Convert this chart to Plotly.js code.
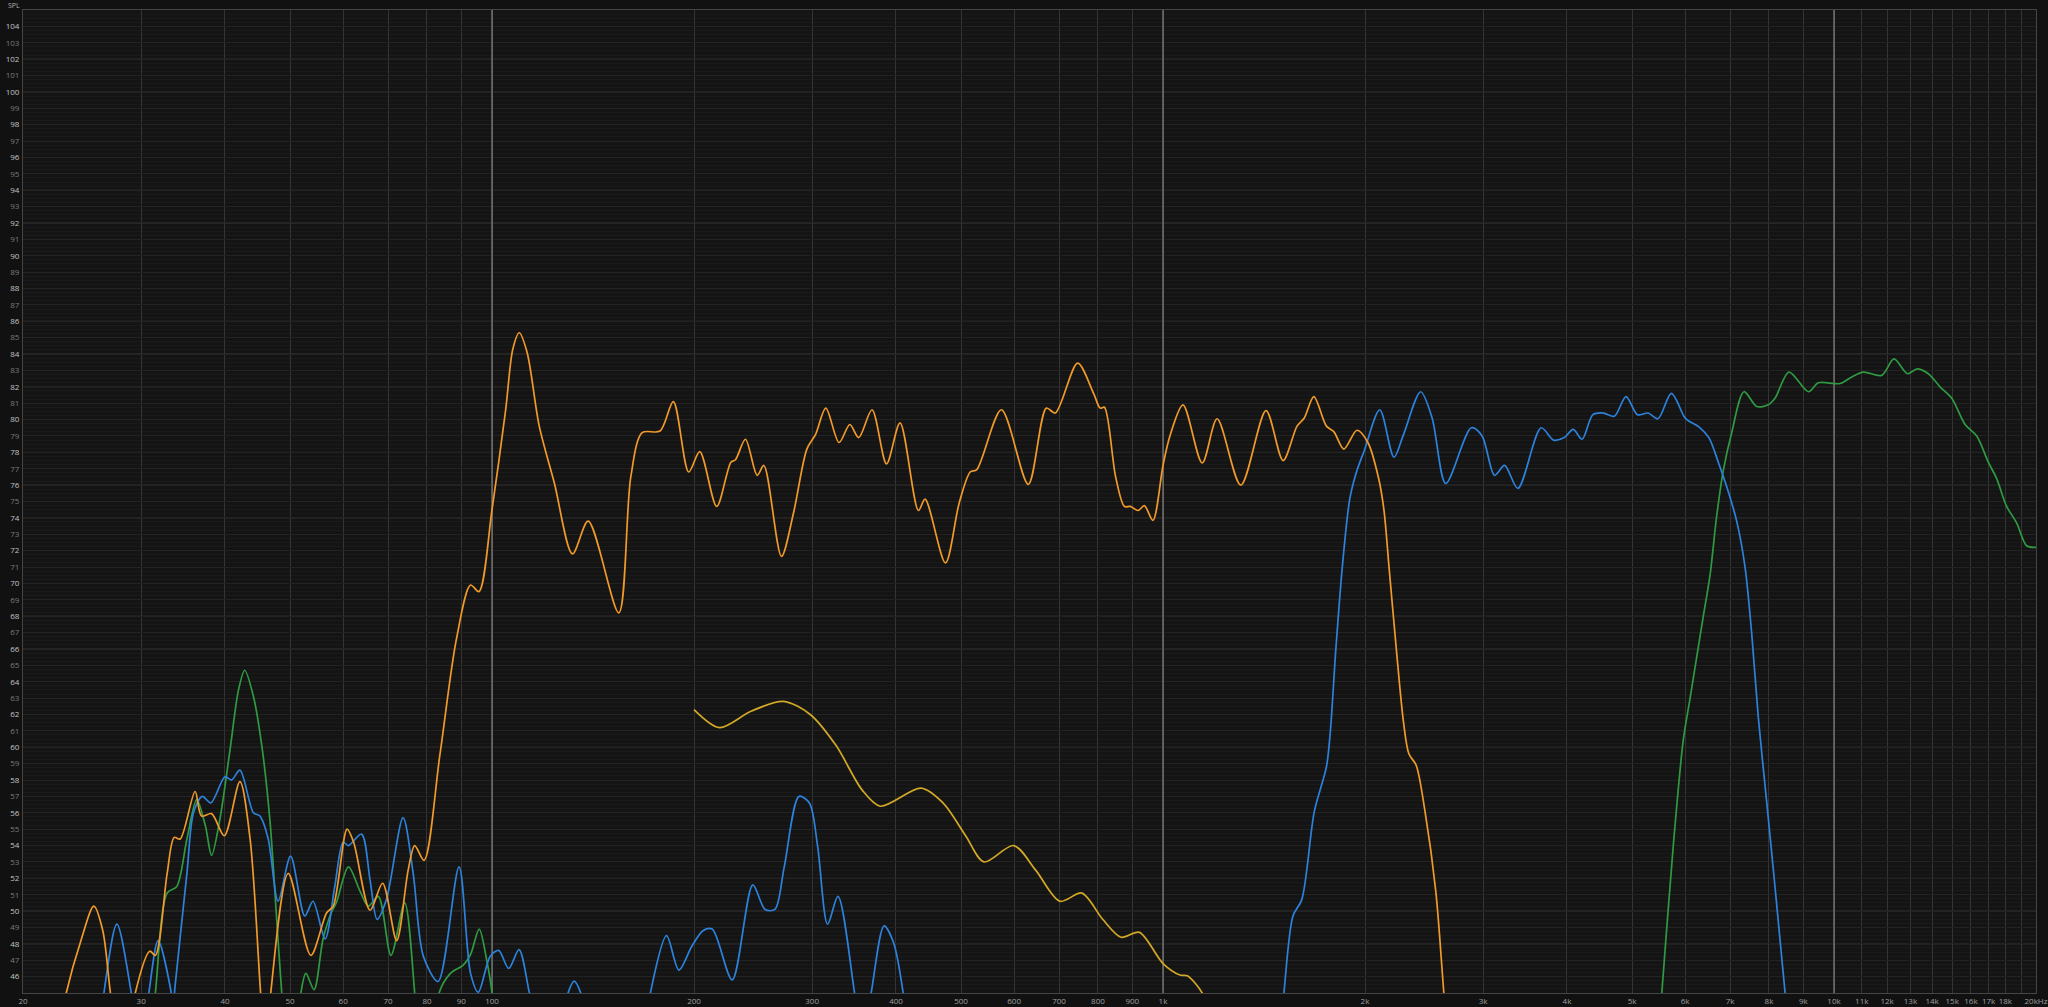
<!DOCTYPE html>
<html>
<head>
<meta charset="utf-8">
<script src="https://cdn.plot.ly/plotly-3.0.1.min.js"></script>
<style>
  html, body { margin: 0; padding: 0; background: #111111; }
  #chart { width: 2048px; height: 1007px; }
</style>
</head>
<body>
<div id="chart"></div>
<script>
// ---------- data (frequency in Hz, level in dB SPL) ----------
const orangeFreq = [22.0, 23.2, 24.4, 25.5, 26.3, 27.0, 28.2, 29.4, 30.9, 31.5, 32.8, 33.6, 34.3, 36.1, 36.9, 38.2, 39.9, 42.1, 43.6, 45.2, 46.0, 46.8, 49.7, 53.7, 56.7, 58.0, 60.8, 62.2, 65.8, 68.7, 72.1, 75.0, 76.7, 79.2, 83.6, 88.5, 92.9, 95.6, 100, 104.8, 107.4, 109.8, 112.8, 117.6, 123.9, 131.8, 139.1, 154.5, 161, 167.4, 178, 186.3, 196.4, 204, 216.2, 227, 230.6, 238.6, 248.4, 254.2, 270, 281.4, 294.6, 303.6, 314.4, 329, 341.4, 352, 368.4, 387.2, 405.6, 432, 442, 474, 496.8, 516, 527.8, 574.4, 629.8, 670, 691, 746, 788, 806, 818, 850, 876, 894, 918, 938, 966, 1000, 1024, 1071, 1144, 1204, 1306, 1424, 1510, 1584, 1624, 1678, 1752, 1798, 1860, 1946, 2020, 2096, 2134, 2174, 2228, 2283, 2325, 2384, 2457, 2550, 2619, 2680];
const orangeSPL  = [40, 45.0, 48.2, 50.3, 48.8, 45.0, 40, 45.0, 47.55, 47.3, 52.3, 54.5, 54.4, 57.3, 55.8, 55.95, 54.6, 57.9, 54.4, 45.0, 41, 45.0, 52.3, 47.3, 49.9, 50.3, 55.0, 54.2, 50.05, 51.7, 48.2, 52.5, 54.0, 53.1, 59.5, 66.6, 69.9, 69.5, 74.5, 80.6, 84.3, 85.3, 84.1, 79.6, 76.1, 71.8, 73.8, 68.2, 76.5, 79.2, 79.3, 81.1, 76.8, 78.05, 74.7, 77.4, 77.55, 78.8, 76.6, 77.2, 71.65, 74.3, 78.2, 79.1, 80.7, 78.6, 79.7, 78.9, 80.6, 77.3, 79.8, 74.45, 75.15, 71.25, 74.9, 76.8, 76.95, 80.6, 76.05, 80.7, 80.4, 83.45, 81.6, 80.7, 80.75, 76.5, 74.7, 74.7, 74.45, 74.75, 73.85, 77.2, 79.0, 80.9, 77.35, 80.05, 76.0, 80.55, 77.5, 79.6, 80.1, 81.4, 79.6, 79.25, 78.2, 79.35, 78.6, 76.4, 74.5, 70.8, 65.9, 61.5, 59.6, 58.9, 56.1, 51.2, 45.2, 40];

const yellowFreq = [200, 218.3, 243.2, 271.9, 298, 325.7, 356, 379, 436, 470, 508, 541, 599, 646, 702, 757, 813, 866, 922, 1000, 1060, 1087, 1144, 1175];
const yellowSPL  = [62.3, 61.2, 62.2, 62.8, 62.0, 60.1, 57.4, 56.4, 57.5, 56.6, 54.6, 53.0, 54.0, 52.5, 50.6, 51.1, 49.5, 48.4, 48.7, 46.8, 46.1, 46.05, 45.0, 43.5];

const blueFreq = [25.6, 26.4, 27.6, 29.0, 29.9, 30.8, 31.8, 33.2, 33.45, 33.7, 35.1, 35.9, 37.0, 38.1, 40.0, 40.9, 42.1, 44.1, 45.1, 46.4, 48.0, 50.1, 52.6, 54.1, 56.4, 58.3, 60.0, 61.1, 63.9, 65.8, 67.4, 69.6, 73.7, 76.3, 79.0, 83.1, 89.3, 92.9, 95.4, 99.4, 102.3, 105.9, 109.7, 113.7, 118, null, 127, 129.8, 132.6, 135.6, 139, null, 168, 172.2, 182, 189.9, 198.5, 206.2, 212.9, 228, 244.7, 255.2, 264, 272.6, 286.8, 297.2, 305.7, 316.3, 327.8, 347, 356, 367.3, 384, 396.5, 410, 420, null, 1480, 1514, 1562, 1610, 1681, 1752, 1776, 1809, 1853, 1899, 1946, 1995, 2104, 2209, 2283, 2421, 2518, 2639, 2881, 2989, 3120, 3229, 3380, 3660, 3820, 3963, 4086, 4213, 4372, 4535, 4705, 4898, 5093, 5284, 5464, 5723, 5975, 6033, 6314, 6509, 6723, 6958, 7161, 7369, 7541, 7713, 7940, 8166, 8473, 8650];
const blueSPL  = [40, 45.0, 49.2, 45.0, 41, 45.0, 48.2, 45.2, 44.0, 45.4, 52.3, 56.0, 57.0, 56.6, 58.2, 58.0, 58.6, 56.0, 55.8, 54.4, 50.6, 53.35, 49.7, 50.6, 48.3, 51.5, 54.2, 54.0, 54.7, 51.9, 49.5, 50.7, 55.7, 52.3, 47.25, 45.7, 52.7, 46.2, 45.05, 47.25, 47.6, 46.5, 47.65, 45.0, 42, null, 43, 45.0, 45.72, 45.0, 43, null, 42, 45.0, 48.5, 46.4, 47.85, 48.8, 48.9, 45.8, 51.6, 50.1, 50.1, 52.7, 57.0, 56.6, 53.95, 49.2, 50.9, 45.0, 42, 45.0, 49.1, 48.1, 45.0, 41, null, 41, 45.0, 49.7, 50.7, 56.1, 58.8, 61.0, 65.9, 71.3, 75.2, 76.9, 78.1, 80.6, 77.7, 79.1, 81.7, 80.1, 76.1, 79.5, 79.0, 76.6, 77.2, 75.8, 79.5, 78.75, 78.9, 79.4, 78.8, 80.3, 80.4, 80.2, 81.4, 80.3, 80.4, 80.05, 81.6, 80.2, 80.0, 79.5, 78.9, 77.4, 75.6, 73.8, 71.0, 66.9, 61.8, 56.6, 51.5, 44.6, 41];

const greenFreq = [30.6, 31.5, 32.8, 33.9, 35.1, 36.3, 37.4, 38.2, 39.3, 40.7, 41.9, 42.8, 44.1, 45.4, 46.7, 47.8, 48.6, 49.5, null, 51.0, 51.9, 52.8, 54.3, 56.0, 57.6, 58.6, 61.1, 63.6, 65.4, 67.7, 70.7, 74.1, 76.7, 78, null, 82, 83.4, 86.7, 90.6, 92.9, 95.7, 98.2, 100, 101.5, null, 5420, 5538, 5761, 5960, 6103, 6380, 6535, 6685, 6840, 7039, 7343, 7671, 7980, 8166, 8570, 9159, 9477, 10208, 10627, 11058, 11776, 12287, 12862, 13310, 13822, 14388, 14980, 15680, 16320, 16980, 17475, 18083, 18714, 19366, 20000];
const greenSPL  = [40, 45.0, 51.1, 51.5, 54.4, 56.8, 55.2, 53.4, 55.6, 59.85, 63.5, 64.7, 63.1, 60.05, 55.4, 49.3, 45.0, 41, null, 41, 45.0, 46.2, 45.2, 48.3, 49.9, 50.5, 52.7, 51.2, 50.3, 50.9, 47.3, 50.5, 45.0, 41, null, 41, 45.0, 46.2, 46.7, 47.35, 48.9, 47.0, 45.0, 41, null, 40, 45.0, 54.0, 60.4, 63.0, 67.9, 70.5, 74.1, 76.9, 79.2, 81.7, 80.8, 80.9, 81.3, 82.9, 81.7, 82.25, 82.2, 82.6, 82.9, 82.7, 83.7, 82.8, 83.1, 82.8, 82.0, 81.3, 79.7, 79.0, 77.4, 76.4, 74.7, 73.7, 72.3, 72.2];

const xTickValues = [20, 30, 40, 50, 60, 70, 80, 90, 100, 200, 300, 400, 500, 600, 700, 800, 900, 1000, 2000, 3000, 4000, 5000, 6000, 7000, 8000, 9000, 10000, 11000, 12000, 13000, 14000, 15000, 16000, 17000, 18000, 19000, 20000];
const xTickLabels = ["20", "30", "40", "50", "60", "70", "80", "90", "100", "200", "300", "400", "500", "600", "700", "800", "900", "1k", "2k", "3k", "4k", "5k", "6k", "7k", "8k", "9k", "10k", "11k", "12k", "13k", "14k", "15k", "16k", "17k", "18k", "", "20kHz"];
const decadeLines = [100, 1000, 10000];
const yTickValues = [];
for (let v = 46; v <= 104; v++) yTickValues.push(v);

// ---------- styling ----------
const brightRows = [48, 50, 52, 54, 60, 66, 68, 74, 76, 78, 80, 82, 84, 86, 88, 92, 94, 100, 102];
const yTickText = yTickValues.map(v => {
  const c = (v % 2 === 0) ? '#c4c4c4' : '#7c7c7c';
  return '<span style="color:' + c + '">' + v + '</span>';
});

const lineW = 1.7;
const sm = 0.85;
const traces = [
  { x: decadeLines.flatMap(f => [f, f, null]), y: decadeLines.flatMap(() => [45, 105, null]),
    mode: 'lines', line: { color: '#9a9a9a', width: 1 }, hoverinfo: 'skip', showlegend: false },
  { x: greenFreq, y: greenSPL, mode: 'lines', connectgaps: false,
    line: { color: '#2f9a41', width: lineW, shape: 'spline', smoothing: sm }, showlegend: false },
  { x: blueFreq, y: blueSPL, mode: 'lines', connectgaps: false,
    line: { color: '#2c82dc', width: lineW, shape: 'spline', smoothing: sm }, showlegend: false },
  { x: orangeFreq, y: orangeSPL, mode: 'lines',
    line: { color: '#f09a2a', width: lineW, shape: 'spline', smoothing: sm }, showlegend: false },
  { x: yellowFreq, y: yellowSPL, mode: 'lines',
    line: { color: '#d3a826', width: lineW, shape: 'spline', smoothing: sm }, showlegend: false }
];

const shapes = brightRows.map(v => ({
  type: 'line', xref: 'paper', x0: 0, x1: 1, yref: 'y', y0: v, y1: v,
  line: { color: '#3a3a3a', width: 1 }, layer: 'between'
}));

const layout = {
  width: 2048, height: 1007,
  margin: { l: 23, r: 12, t: 10, b: 14 },
  paper_bgcolor: '#111111',
  plot_bgcolor: '#141414',
  font: { family: 'Open Sans, DejaVu Sans, sans-serif', size: 8, color: '#9a9a9a' },
  xaxis: {
    type: 'log', range: [Math.log10(20), Math.log10(20000)],
    tickmode: 'array', tickvals: xTickValues, ticktext: xTickLabels,
    showgrid: true, gridcolor: '#343434', gridwidth: 1,
    zeroline: false, showline: true, linecolor: '#454545', mirror: true,
    ticks: '', tickfont: { size: 8, color: '#a0a0a0' }, ticklabelstandoff: 0
  },
  yaxis: {
    range: [45, 105], tickmode: 'array', tickvals: yTickValues, ticktext: yTickText,
    showgrid: true, gridcolor: '#232323', gridwidth: 1,
    minor: { dtick: 0.25, showgrid: true, gridcolor: '#1a1a1a', gridwidth: 1 },
    zeroline: false, showline: true, linecolor: '#454545', mirror: true,
    ticks: '', tickfont: { size: 8 }, ticklabelstandoff: 1
  },
  shapes: shapes,
  annotations: [{
    text: 'SPL', xref: 'paper', yref: 'paper', x: 0, y: 1, xanchor: 'right', yanchor: 'middle',
    xshift: -2, yshift: 5, borderpad: 0, showarrow: false, font: { size: 7, color: '#b0b0b0' }
  }],
  showlegend: false,
  hovermode: false
};

Plotly.newPlot('chart', traces, layout, { displayModeBar: false, staticPlot: true });
</script>
</body>
</html>
